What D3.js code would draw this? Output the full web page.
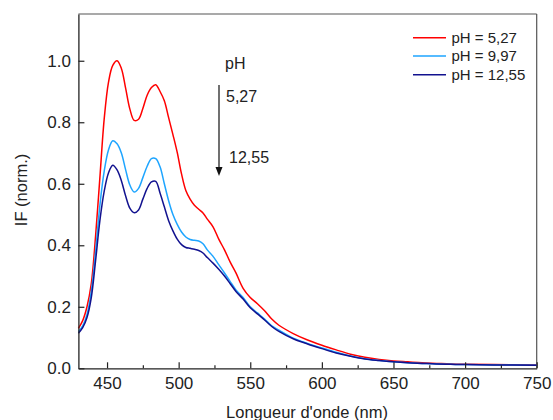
<!DOCTYPE html>
<html><head><meta charset="utf-8">
<script src="https://cdn.jsdelivr.net/npm/d3@7"></script>
<style>body{margin:0;background:#fff} svg{display:block;font-family:Arial,"Liberation Sans",sans-serif}</style>
</head><body><svg id="c" width="553" height="420"></svg>
<script>
const wavelengths=[430,433,436,439,442,445,448,451,454,457,460,463,466,469,472,475,478,481,484,487,490,493,496,499,502,505,508,511,514,517,520,524,528,532,536,540,545,550,555,560,565,570,580,590,600,610,620,630,640,650,660,670,680,690,700,720,750];
const ph527=[0.13,0.155,0.2,0.275,0.43,0.62,0.81,0.93,0.985,1.0,0.975,0.91,0.842,0.806,0.81,0.845,0.888,0.913,0.922,0.9,0.87,0.815,0.76,0.702,0.632,0.578,0.55,0.53,0.517,0.505,0.485,0.46,0.42,0.385,0.345,0.31,0.26,0.23,0.21,0.187,0.16,0.14,0.113,0.092,0.075,0.06,0.046,0.036,0.029,0.024,0.021,0.018,0.016,0.014,0.013,0.012,0.011];
const ph997=[0.119,0.138,0.175,0.25,0.38,0.53,0.64,0.71,0.74,0.73,0.70,0.645,0.595,0.573,0.585,0.62,0.657,0.682,0.682,0.655,0.60,0.545,0.50,0.468,0.443,0.427,0.419,0.416,0.414,0.405,0.385,0.364,0.337,0.31,0.282,0.255,0.23,0.20,0.18,0.16,0.138,0.124,0.098,0.081,0.066,0.052,0.04,0.031,0.025,0.021,0.018,0.016,0.014,0.013,0.012,0.011,0.01];
const ph1255=[0.114,0.132,0.165,0.23,0.35,0.48,0.575,0.635,0.66,0.645,0.61,0.56,0.52,0.506,0.515,0.55,0.585,0.606,0.608,0.57,0.525,0.48,0.447,0.42,0.402,0.393,0.39,0.387,0.383,0.375,0.36,0.342,0.322,0.30,0.275,0.25,0.225,0.197,0.177,0.157,0.136,0.12,0.096,0.079,0.064,0.05,0.039,0.03,0.025,0.021,0.018,0.016,0.014,0.013,0.012,0.011,0.01];
const seriesNames=["pH = 5,27","pH = 9,97","pH = 12,55"];
const seriesColors=["#ff0000","#1ea5ff","#12128f"];
const xTicks=[450,500,550,600,650,700,750];
const xMinorTicks=[475,525,575,625,675,725];
const yTicks=[0,0.2,0.4,0.6,0.8,1.0];

const svg=d3.select("#c");
const L=78.4,R=536.7,T=14,B=368.3;
const x=d3.scaleLinear().domain([430,750]).range([L,R]);
const y=d3.scaleLinear().domain([0,1.152]).range([B,T]);

svg.append("line").attr("x1",L).attr("x2",R).attr("y1",T).attr("y2",T).attr("stroke","#555").attr("stroke-width",1.2);
svg.append("line").attr("x1",R).attr("x2",R).attr("y1",T).attr("y2",B).attr("stroke","#555").attr("stroke-width",1.2);

const series=[ph527,ph997,ph1255];
const line=d3.line().x((d,i)=>x(wavelengths[i])).y(d=>y(d)).curve(d3.curveCatmullRom.alpha(0.5));
const g=svg.append("g");
series.forEach((s,k)=>{
  g.append("path").datum(s).attr("d",line).attr("fill","none").attr("stroke",seriesColors[k]).attr("stroke-width",1.5);
});

const xa=svg.append("g").attr("transform",`translate(0,${B})`)
  .call(d3.axisBottom(x).tickValues(xTicks).tickSizeInner(-6).tickSizeOuter(0).tickPadding(9).tickFormat(d3.format("d")));
const xm=svg.append("g").attr("transform",`translate(0,${B})`)
  .call(d3.axisBottom(x).tickValues(xMinorTicks).tickSizeInner(-3).tickSizeOuter(0).tickFormat(""));
xm.select(".domain").remove();
const ya=svg.append("g").attr("transform",`translate(${L},0)`)
  .call(d3.axisLeft(y).tickValues(yTicks).tickSizeInner(-6).tickSizeOuter(0).tickPadding(7.5).tickFormat(d3.format(".1f")));
[xa,xm,ya].forEach(a=>{
  a.selectAll("line").attr("stroke","#222").attr("stroke-width",1.2);
  a.selectAll(".domain").attr("stroke","#222").attr("stroke-width",1.3);
  a.selectAll("text").attr("font-size",17).attr("fill","#222").attr("font-family","Arial,'Liberation Sans',sans-serif");
});

svg.append("text").attr("x",307).attr("y",418).attr("text-anchor","middle").attr("font-size",16.5).attr("fill","#222").text("Longueur d'onde (nm)");
svg.append("text").attr("transform","translate(27,190) rotate(-90)").attr("text-anchor","middle").attr("font-size",16.5).attr("fill","#222").text("IF (norm.)");

const ly=[37.7,56,74.7];
seriesNames.forEach((n,k)=>{
  svg.append("line").attr("x1",413).attr("x2",446).attr("y1",ly[k]).attr("y2",ly[k]).attr("stroke",seriesColors[k]).attr("stroke-width",1.5);
  svg.append("text").attr("x",451.5).attr("y",ly[k]).attr("dy","0.36em").attr("font-size",15).attr("fill","#222").text(n);
});

svg.append("text").attr("x",225).attr("y",69).attr("font-size",16).attr("fill","#222").text("pH");
svg.append("text").attr("x",226).attr("y",102).attr("font-size",16).attr("fill","#222").text("5,27");
svg.append("text").attr("x",229).attr("y",163).attr("font-size",16).attr("fill","#222").text("12,55");
svg.append("line").attr("x1",219).attr("x2",219).attr("y1",85).attr("y2",170).attr("stroke","#111").attr("stroke-width",1.2);
svg.append("path").attr("d","M215.5,167 L222.5,167 L219,176 Z").attr("fill","#111");
</script></body></html>
